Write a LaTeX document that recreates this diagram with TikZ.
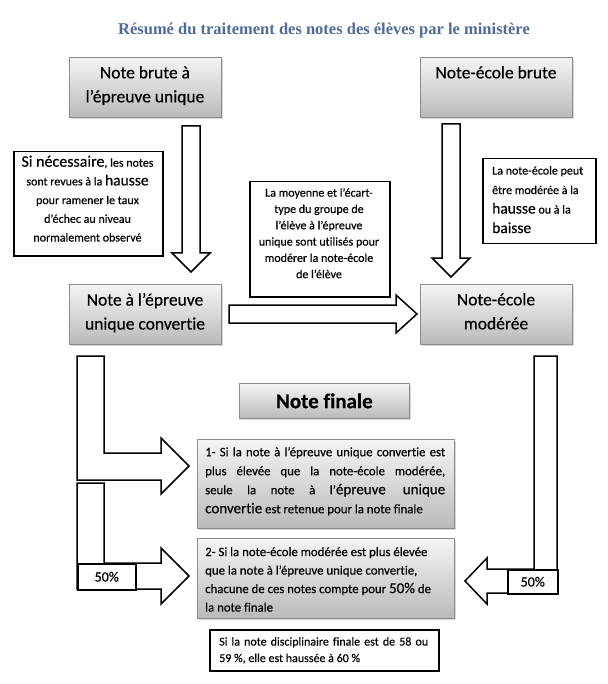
\documentclass[tikz,border=0pt]{standalone}
\usepackage{fontspec}
\setmainfont{Carlito}[Ligatures=NoCommon, FakeBold=0.4]
\newfontfamily\titlefont{Liberation Serif}
\usetikzlibrary{shadows}
\definecolor{titleblue}{RGB}{80,108,150}
\definecolor{gborder}{RGB}{140,140,140}
\definecolor{gtop}{RGB}{245,245,245}
\definecolor{gbot}{RGB}{186,186,186}
\newcommand{\fs}[2]{\fontsize{#1}{#2}\selectfont}
\begin{document}
\begin{tikzpicture}[x=1pt,y=-1pt,
  gbox/.style={draw=gborder, line width=0.7pt, top color=gtop, bottom color=gbot,
    drop shadow={shadow xshift=2pt, shadow yshift=-2pt, opacity=0.3},
    inner sep=0pt, anchor=north west},
  wbox/.style={draw=black, line width=1.5pt, fill=white, inner sep=0pt, anchor=north west},
  blockarrow/.style={draw=black, line width=1.5pt, fill=white, line join=miter},
  lbl/.style={inner sep=0pt, font=\fs{17.5}{24}, align=center, anchor=north},
  small/.style={inner sep=0pt, font=\fs{12}{18.7}, align=center, anchor=north},
]
\useasboundingbox (0,0) rectangle (607,684);
\fill[white] (0,0) rectangle (607,684);

% title
\node[font=\titlefont\bfseries\fs{16.5}{20}, text=titleblue, inner sep=0pt] (title) at (324,31)
  {Résumé du traitement des notes des élèves par le ministère};

% top boxes
\node[gbox, minimum width=152pt, minimum height=60pt] (brute) at (69,57) {};
\node[lbl] (tbrute) at (145,66) {Note brute à\\l’épreuve unique};
\node[gbox, minimum width=152pt, minimum height=60pt] (ecole) at (420,57) {};
\node[lbl] (tecole) at (496,66) {Note-école brute};

% down arrows
\draw[blockarrow] (182,126) -- (200,126) -- (200,253) -- (210,253) -- (191,272) -- (172,253) -- (182,253) -- cycle;
\draw[blockarrow] (442,124) -- (460,124) -- (460,258) -- (470,258) -- (451,277) -- (432,258) -- (442,258) -- cycle;

% explanatory boxes
\node[wbox, minimum width=149pt, minimum height=104pt] (sibox) at (13,151) {};
\node[small] (tsi) at (87.5,155.5) {{\fs{16}{18.7}Si nécessaire}, les notes\\
  sont revues à la {\fs{15.5}{18.7}hausse}\\pour ramener le taux\\d’échec au niveau\\normalement observé};

\node[wbox, minimum width=140pt, minimum height=115pt] (moybox) at (249,181) {};
\node[small, font=\fs{12}{16.3}] (tmoy) at (319,188) {La moyenne et l’écart-\\type du groupe de\\l’élève à l’épreuve\\unique sont utilisés pour\\modérer la note-école\\de l’élève};

\node[wbox, minimum width=113pt, minimum height=85pt] (peutbox) at (482,158) {};
\node[small, font=\fs{12}{19.5}, align=left, anchor=north west] (tpeut) at (492,166) {La note-école peut\\être modérée à la\\{\fs{15.5}{19.5}hausse} ou à la\\{\fs{15.5}{19.5}baisse}};

% middle boxes
\node[gbox, minimum width=152pt, minimum height=60pt] (conv) at (69,284) {};
\node[lbl] (tconv) at (145,293) {Note à l’épreuve\\unique convertie};
\node[gbox, minimum width=152pt, minimum height=60pt] (mod) at (420,284) {};
\node[lbl] (tmod) at (496,293) {Note-école\\modérée};

% horizontal arrow
\draw[blockarrow] (229,305) -- (396,305) -- (396,295) -- (417,314) -- (396,333) -- (396,323) -- (229,323) -- cycle;

% note finale
\node[gbox, minimum width=170pt, minimum height=35pt] (fin) at (239,383) {};
\node[font=\bfseries\fs{21}{24}, inner sep=0pt] (tfin) at (fin.center) {Note finale};

% left L arrows
\draw[blockarrow] (77,356) -- (104,356) -- (104,453) -- (161,453) -- (161,438) -- (189,466) -- (161,494) -- (161,480) -- (77,480) -- cycle;
\draw[blockarrow] (77,483) -- (104,483) -- (104,563) -- (161,563) -- (161,548) -- (189,576) -- (161,604) -- (161,589) -- (77,589) -- cycle;
\node[wbox, minimum width=58pt, minimum height=26pt, font=\fs{14}{16}] (pleft) at (77,563) {50\%};

% right L arrow
\draw[blockarrow] (534,356) -- (557,356) -- (557,593) -- (487,593) -- (487,604) -- (465,581) -- (487,558) -- (487,569) -- (534,569) -- cycle;
\node[wbox, minimum width=50pt, minimum height=24pt, font=\fs{14}{16}] (pright) at (507,569) {50\%};

% final boxes
\node[gbox, minimum width=257pt, minimum height=89pt] (f1) at (197,439) {};
\node[inner sep=0pt, text width=240pt, align=justify, anchor=north west, font=\fs{12.8}{19}] (tf1) at (205,447)
  {1- Si la note à l’épreuve unique convertie est\linebreak
   plus élevée que la note-école modérée,\linebreak
   seule la note à l’{\fs{15}{19}épreuve unique}\linebreak
   {\fs{15}{19}convertie} est retenue pour la note finale};

\node[gbox, minimum width=257pt, minimum height=80pt] (f2) at (197,538) {};
\node[inner sep=0pt, align=left, anchor=north west, font=\fs{12.8}{18.5}] (tf2) at (205,547)
  {2- Si la note-école modérée est plus élevée\\
   que la note à l’épreuve unique convertie,\\
   chacune de ces notes compte pour {\fs{15}{18.5}50\%} de\\
   la note finale};

\node[wbox, minimum width=229pt, minimum height=41pt] (dis) at (209,629) {};
\node[inner sep=0pt, text width=209pt, align=justify, anchor=north west, font=\fs{12}{16.5}] (tdis) at (219,637)
  {Si la note disciplinaire finale est de 58 ou\linebreak 59 \%, elle est haussée à 60 \%};
\end{tikzpicture}
\end{document}
